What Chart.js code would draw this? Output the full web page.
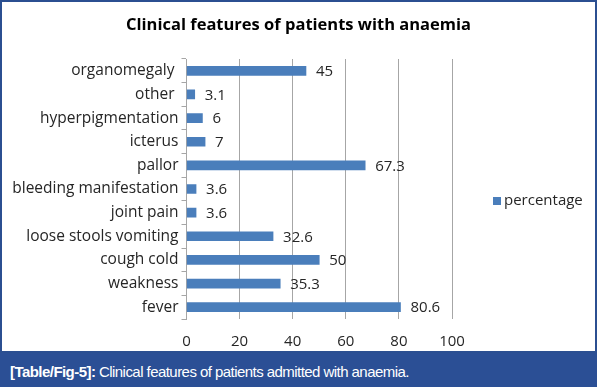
<!DOCTYPE html>
<html>
<head>
<meta charset="utf-8">
<script src="https://cdn.jsdelivr.net/npm/chart.js@4/dist/chart.umd.min.js"></script>
<style>
  html, body { margin: 0; padding: 0; background: #fff; }
  #frame { position: absolute; left: 0; top: 0; width: 593px; height: 349px; border: 2px solid #2b4f91; background: #fff; }
  #caption { position: absolute; left: 0; top: 353px; width: 597px; height: 34px; background: #2b4f95; color: #fff;
    font-family: "Liberation Sans", Arial, sans-serif; font-size: 15px; line-height: 34px; box-sizing: border-box;
    padding-left: 10px; padding-top: 2px; letter-spacing: -0.55px; }
  #caption b { font-weight: bold; }
</style>
</head>
<body>
<div id="frame"><canvas id="anaemiaChart" width="593" height="349"></canvas></div>
<div id="caption"><b>[Table/Fig-5]:</b> Clinical features of patients admitted with anaemia.</div>
<script>
// clinical features, top to bottom (trailing spaces as in the source labels)
const features = ['organomegaly ', 'other ', 'hyperpigmentation', 'icterus', 'pallor', 'bleeding manifestation', 'joint pain', 'loose stools vomiting', 'cough cold', 'weakness', 'fever']
const percentage = [45, 3.1, 6, 7, 67.3, 3.6, 3.6, 32.6, 50, 35.3, 80.6]
const xTicks = [0, 20, 40, 60, 80, 100]
const seriesName = 'percentage'
const chartTitle = 'Clinical features of patients with anaemia'

const labelFont = '"Open Sans", "Noto Sans", sans-serif'
const barColor = '#4a7ebb'
const textColor = '#262626'

// value labels to the right of each bar
const barValues = {
  id: 'barValues',
  afterDatasetsDraw (chart) {
    const ctx = chart.ctx
    const meta = chart.getDatasetMeta(0)
    ctx.save()
    ctx.font = '15px ' + labelFont
    ctx.fillStyle = textColor
    ctx.textBaseline = 'middle'
    meta.data.forEach((bar, i) => {
      ctx.fillText(String(percentage[i]), bar.x + 10, bar.y + 1)
    })
    ctx.restore()
  }
}

// title centred on the whole frame and legend on the right, like the excel one
const frameDecor = {
  id: 'frameDecor',
  afterDraw (chart) {
    const ctx = chart.ctx
    const area = chart.chartArea
    ctx.save()
    ctx.font = 'bold 16.5px ' + labelFont
    ctx.fillStyle = '#000'
    ctx.textAlign = 'center'
    ctx.textBaseline = 'middle'
    ctx.fillText(chartTitle, chart.width / 2, 23)

    const x = area.right + 41
    const y = (area.top + area.bottom) / 2 + 12
    ctx.fillStyle = barColor
    ctx.fillRect(x, y - 4, 8, 8)
    ctx.font = '15px ' + labelFont
    ctx.fillStyle = textColor
    ctx.textAlign = 'left'
    ctx.fillText(seriesName, x + 11, y)
    ctx.restore()
  }
}

const anaemiaChart = document.querySelector('#anaemiaChart')
if (anaemiaChart) {
  new Chart(anaemiaChart, {
    type: 'bar',
    data: {
      labels: features,
      datasets: [
        {
          label: seriesName,
          data: percentage,
          backgroundColor: barColor,
          barThickness: 9
        }
      ]
    },
    options: {
      indexAxis: 'y',
      responsive: false,
      animation: false,
      layout: {
        padding: { left: 0, right: 143, top: 57, bottom: 0 }
      },
      plugins: {
        legend: { display: false },
        tooltip: { enabled: false }
      },
      scales: {
        x: {
          min: 0,
          max: 100,
          afterBuildTicks: axis => { axis.ticks = xTicks.map(v => ({ value: v })) },
          afterFit: axis => { axis.height = 32 },
          grid: { color: '#a6a6a6', drawTicks: false },
          border: { display: false },
          ticks: { color: textColor, font: { family: labelFont, size: 15 }, padding: 14 }
        },
        y: {
          afterFit: axis => { axis.width = 184.5 },
          grid: { drawOnChartArea: false, offset: true, tickLength: 5, color: '#a6a6a6' },
          border: { color: '#a6a6a6' },
          ticks: { color: textColor, font: { family: labelFont, size: 15.5 }, padding: 3 }
        }
      }
    },
    plugins: [barValues, frameDecor]
  })
}
</script>
</body>
</html>
